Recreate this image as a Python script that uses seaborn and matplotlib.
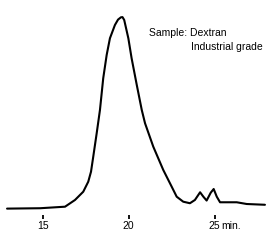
import matplotlib
matplotlib.use("Agg")
import matplotlib.pyplot as plt
import seaborn as sns
import pandas as pd

# Chromatogram data (retention time in min, relative detector response)
time_min = [12.93, 14.85, 16.30, 16.88, 17.36, 17.65, 17.81, 17.94, 18.14, 18.33,
            18.52, 18.72, 18.91, 19.20, 19.38, 19.55, 19.64, 19.74, 19.98, 20.17,
            20.47, 20.76, 20.95, 21.43, 22.01, 22.50, 22.79, 23.17, 23.56, 23.85,
            24.15, 24.34, 24.53, 24.77, 24.94, 25.12, 25.31, 26.28, 26.86, 27.92]
response = [0.2, 0.4, 1.2, 4.7, 9.0, 14.2, 19.4, 27.2, 39.4, 51.5,
            68.0, 80.1, 88.8, 95.7, 98.5, 99.7, 99.8, 98.3, 88.8, 78.4,
            64.5, 51.5, 44.6, 32.4, 20.3, 11.6, 6.4, 3.8, 3.0, 4.7,
            8.7, 6.4, 4.4, 8.5, 10.4, 6.4, 3.5, 3.5, 2.6, 2.2]
tick_values = [15, 20, 25]
tick_labels = ["15", "20", "25"]
unit_label = "min."
annotation_lines = ["Sample: Dextran", "Industrial grade"]

df = pd.DataFrame({"time": time_min, "response": response})

sns.set_theme(style="white")
plt.rcParams["font.family"] = ["Liberation Sans", "DejaVu Sans"]

W, H = 272, 240
fig = plt.figure(figsize=(W / 100, H / 100), dpi=100)
fig.patch.set_facecolor("white")
ax_bottom_px = 215
ax = fig.add_axes([0, 1 - ax_bottom_px / H, 1, ax_bottom_px / H])
ax.set_facecolor("white")

sns.lineplot(data=df, x="time", y="response", ax=ax, color="black",
             linewidth=1.5, estimator=None, sort=False)

ax.set_xlim(12.52, 28.33)
ax.set_ylim(-3.12, 108.7)
for s in ax.spines.values():
    s.set_visible(False)
ax.set_xlabel("")
ax.set_ylabel("")
ax.set_yticks([])
tick_len, tick_pad, fs = 3.0, 1.0, 7.5
ax.set_xticks(tick_values)
ax.set_xticklabels(tick_labels, fontsize=fs)
ax.tick_params(axis="x", direction="out", length=tick_len, width=1.3, color="black",
               pad=tick_pad, bottom=True, labelcolor="black")

ax.annotate(unit_label, xy=(25.36, 0), xycoords=("data", "axes fraction"),
            xytext=(0, -(tick_len + tick_pad)), textcoords="offset points",
            fontsize=fs, ha="left", va="top", color="black")

fig.text(149 / W, 1 - 33 / H, annotation_lines[0], fontsize=7.5, ha="left", va="center", color="black")
fig.text(191 / W, 1 - 47 / H, annotation_lines[1], fontsize=7.5, ha="left", va="center", color="black")

fig.savefig("out.png", dpi=100, facecolor="white")
